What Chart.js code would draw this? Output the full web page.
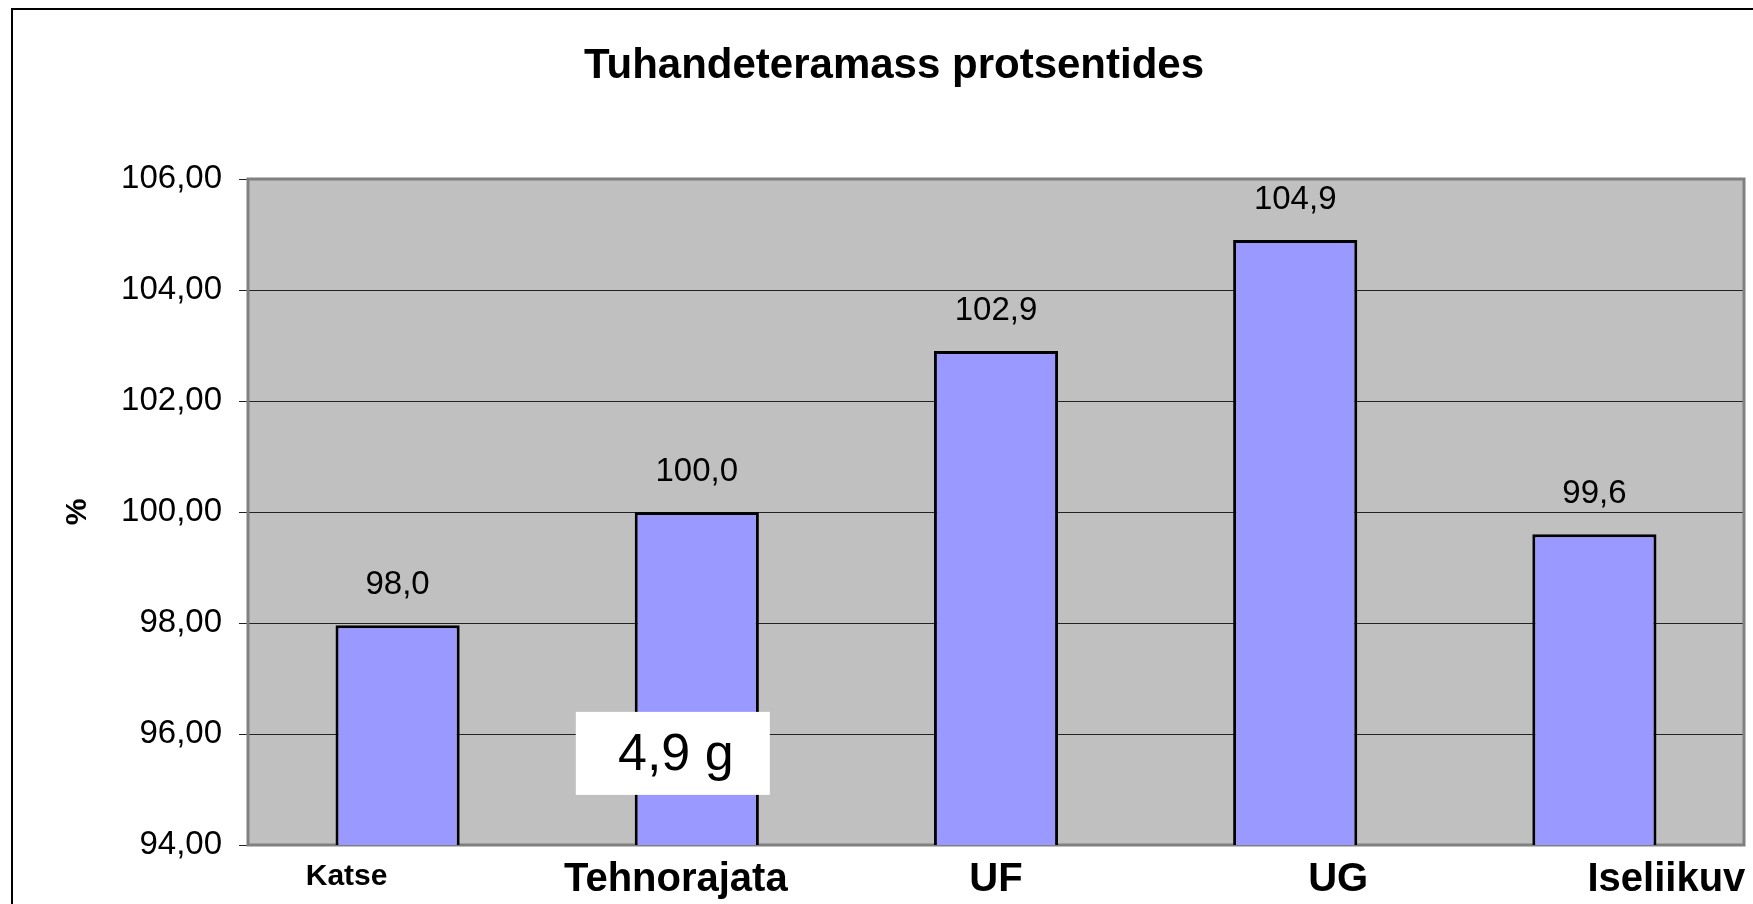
<!DOCTYPE html>
<html>
<head>
<meta charset="utf-8">
<script src="https://cdn.jsdelivr.net/npm/chart.js@4.4.1/dist/chart.umd.min.js"></script>
<style>
  html, body { margin: 0; padding: 0; background: #fff; }
  #wrap { width: 1753px; height: 904px; position: relative; }
</style>
</head>
<body>
<div id="wrap"><canvas id="mycanvas" width="1753" height="904"></canvas></div>
<script>
// categories and values
var categories = ['Katse', 'Tehnorajata', 'UF', 'UG', 'Iseliikuv'];
var values = [97.96, 100.0, 102.9, 104.9, 99.6];
var yTicks = [94, 96, 98, 100, 102, 104, 106];
var noteText = '4,9 g';

// label look (sizes/offsets of the category names under the axis)
var catFontSize = [30, 40, 40, 40, 40];
var catShift = [-51, -21, 0, 43, 72];
var catDrop = [32, 35, 35, 35, 35];

var FONT = "'Liberation Sans', Arial, sans-serif";

function comma(v, d) {
    return v.toFixed(d).replace('.', ',');
}

var plotBg = {
    id: 'plotBg',
    beforeDraw: function(chart) {
        var c = chart.ctx, a = chart.chartArea;
        c.save();
        c.fillStyle = '#fff';
        c.fillRect(0, 0, chart.width, chart.height);
        // outer frame
        c.strokeStyle = '#000';
        c.lineWidth = 2;
        c.strokeRect(12, 9, chart.width + 20, chart.height + 20);
        c.fillStyle = '#C0C0C0';
        c.fillRect(a.left, a.top, a.right - a.left, a.bottom - a.top);
        c.restore();
    },
    beforeDatasetsDraw: function(chart) {
        var c = chart.ctx, a = chart.chartArea;
        c.save();
        c.strokeStyle = '#808080';
        c.lineWidth = 3;
        c.strokeRect(a.left, a.top, a.right - a.left, a.bottom - a.top);
        c.restore();
    },
    afterDatasetsDraw: function(chart) {
        var c = chart.ctx;
        var meta = chart.getDatasetMeta(0);
        var xs = chart.scales.x, ys = chart.scales.y;
        c.save();
        c.fillStyle = '#000';
        c.textAlign = 'center';
        c.textBaseline = 'middle';
        c.font = '33px ' + FONT;
        meta.data.forEach(function(bar, i) {
            c.fillText(comma(values[i], 1), bar.x, bar.y - 40);
        });
        // category names
        categories.forEach(function(name, i) {
            c.font = 'bold ' + catFontSize[i] + 'px ' + FONT;
            c.fillText(name, xs.getPixelForValue(i) + catShift[i], ys.bottom + catDrop[i]);
        });
        // white note box
        var bx = xs.getPixelForValue(1) - 24, by = ys.getPixelForValue(95.66);
        c.fillStyle = '#fff';
        c.fillRect(bx - 97, by - 41, 194, 83);
        c.fillStyle = '#000';
        c.font = '52px ' + FONT;
        c.fillText(noteText, bx + 3, by + 3);
        c.restore();
    }
};

var chartdata = {
    labels: categories,
    datasets: [
        {
            label: 'Tuhandeteramass',
            backgroundColor: '#9999FF',
            borderColor: '#000',
            borderWidth: 3,
            borderSkipped: false,
            barPercentage: 0.415,
            categoryPercentage: 1,
            data: values
        }
    ]
};

var ctx = document.getElementById('mycanvas');
var barGraph = new Chart(ctx, {
    type: 'bar',
    data: chartdata,
    plugins: [plotBg],
    options: {
        responsive: false,
        animation: false,
        devicePixelRatio: 1,
        layout: { padding: { left: 44, right: 9, top: 0, bottom: 0 } },
        plugins: {
            legend: { display: false },
            tooltip: { enabled: false },
            title: {
                display: true,
                text: 'Tuhandeteramass protsentides',
                color: '#000',
                font: { family: FONT, size: 42, weight: 'bold', lineHeight: 1.2 },
                padding: { top: 41, bottom: 87.6 }
            }
        },
        scales: {
            x: {
                grid: { display: false },
                border: { display: false },
                ticks: { display: false },
                afterFit: function(s) { s.height = 59; }
            },
            y: {
                min: 94,
                max: 106,
                afterBuildTicks: function(s) {
                    s.ticks = yTicks.map(function(v) { return { value: v }; });
                },
                afterFit: function(s) { s.width = 204; },
                grid: { color: '#222', lineWidth: 1, tickLength: 9 },
                border: { display: false },
                ticks: {
                    color: '#000',
                    padding: 17,
                    font: { family: FONT, size: 33 },
                    callback: function(v) { return comma(v, 2); }
                },
                title: {
                    display: true,
                    text: '%',
                    color: '#000',
                    font: { family: FONT, size: 30, weight: 'bold', lineHeight: 1.2 },
                    padding: { top: 16, bottom: 0 }
                }
            }
        }
    }
});
</script>
</body>
</html>
